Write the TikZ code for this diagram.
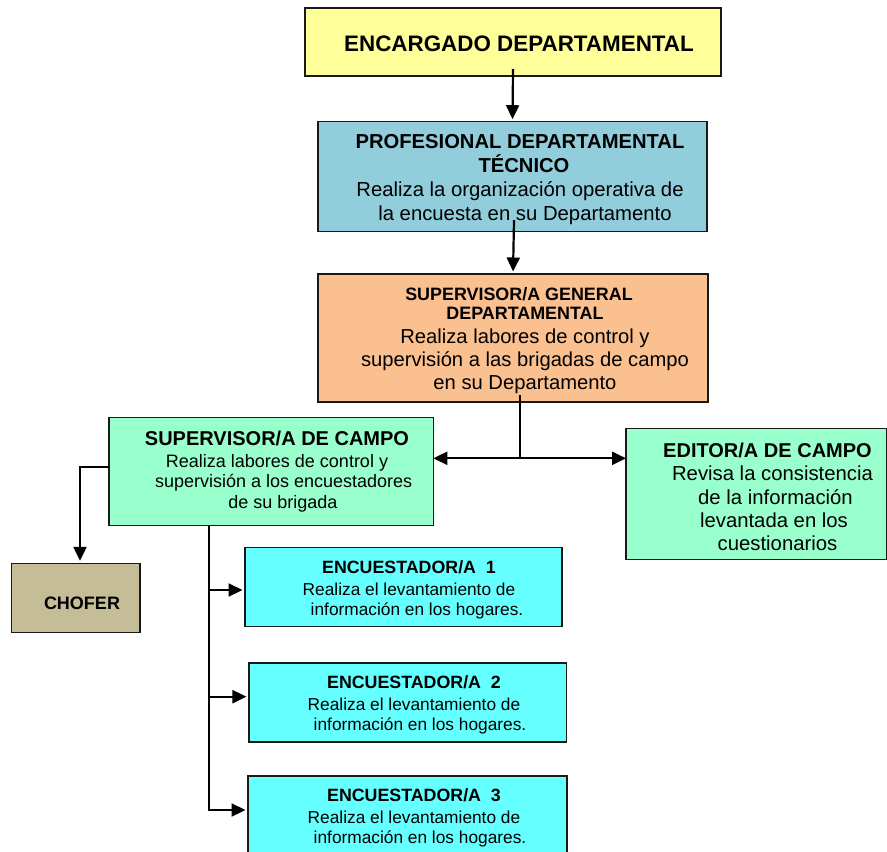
\documentclass[tikz,border=0pt]{standalone}
\usepackage{fontspec}
\setmainfont{Liberation Sans}
\usetikzlibrary{arrows.meta}
\definecolor{cEnc}{HTML}{FFFF99}
\definecolor{cProf}{HTML}{92CDDC}
\definecolor{cSup}{HTML}{FAC090}
\definecolor{cCampo}{HTML}{99FFCC}
\definecolor{cChof}{HTML}{C4BD97}
\definecolor{cEnq}{HTML}{66FFFF}
\newcommand\hd[2]{{\bfseries\fontsize{#1}{#1}\selectfont #2}}
\begin{document}
\begin{tikzpicture}[x=1pt,y=-1pt,
  box/.style={draw=black!90, line width=1.4pt, inner sep=0pt, outer sep=0pt},
  txt/.style={anchor=north, align=center, inner sep=0pt},
  link/.style={line width=2.2pt},
  conn/.style={line width=2.2pt, -{Triangle[length=14pt,width=13pt]}, shorten >=2.5pt}]
\useasboundingbox (0,0) rectangle (887,852);

% boxes
\node[box, fill=cEnc, minimum width=416pt, minimum height=68pt] (enc) at (513,42) {};
\node[txt, font=\bfseries\fontsize{22.4}{25}\selectfont] (encT) at (519,35.5) {ENCARGADO DEPARTAMENTAL};

\node[box, fill=cProf, minimum width=389pt, minimum height=110pt] (prof) at (512.5,176.7) {};
\node[txt, font=\fontsize{20.3}{23.5}\selectfont] (profT) at (520,134.5) {\hd{20.2}{PROFESIONAL DEPARTAMENTAL}\\ \hspace*{8pt}\hd{20.2}{TÉCNICO}\\[1pt] Realiza la organización operativa de\hspace*{6.6pt}\\ \hspace*{10pt}la encuesta en su Departamento};

\node[box, fill=cSup, minimum width=390pt, minimum height=128pt] (supg) at (513,338) {};
\node[txt, font=\fontsize{20.2}{23}\selectfont] (supgT) at (525,287.2) {\hd{17.9}{SUPERVISOR/A GENERAL}\hspace*{12pt}\\[-3.7pt] \hd{17.9}{DEPARTAMENTAL}\\[1pt] Realiza labores de control y\hspace*{13pt}\\ supervisión a las brigadas de campo\\ en su Departamento};

\node[box, fill=cCampo, minimum width=324.3pt, minimum height=108.4pt] (campo) at (271.2,471.5) {};
\node[txt, font=\fontsize{18}{20.5}\selectfont] (campoT) at (277,430.7) {\hd{20}{SUPERVISOR/A DE CAMPO}\\[1.5pt] Realiza labores de control y\\ \hspace*{13.4pt}supervisión a los encuestadores\\ \hspace*{12pt}de su brigada};

\node[box, fill=cCampo, minimum width=260.5pt, minimum height=131pt] (editor) at (756.3,493.8) {};
\node[txt, font=\fontsize{20.3}{23.3}\selectfont] (editorT) at (767.5,443) {\hd{20}{EDITOR/A DE CAMPO}\\ \hspace*{10pt}Revisa la consistencia\\ \hspace*{16pt}de la información\\ \hspace*{13pt}levantada en los\\ \hspace*{20pt}cuestionarios};

\node[box, fill=cChof, minimum width=128.3pt, minimum height=69.4pt] (chofer) at (75.8,598) {};
\node[txt, font=\bfseries\fontsize{18}{21}\selectfont] (choferT) at (82,597) {CHOFER};

\node[box, fill=cEnq, minimum width=317pt, minimum height=79pt] (e1) at (403.5,587) {};
\node[txt, font=\fontsize{17.3}{20}\selectfont] (e1T) at (409,560.3) {\hd{17.8}{ENCUESTADOR/A\ \ 1}\\[2pt] Realiza el levantamiento de\hspace*{7pt}\\ \hspace*{16pt}información en los hogares.};

\node[box, fill=cEnq, minimum width=317.7pt, minimum height=79pt] (e2) at (407.8,702.5) {};
\node[txt, font=\fontsize{17.3}{20}\selectfont] (e2T) at (414,675.6) {\hd{17.8}{ENCUESTADOR/A\ \ 2}\\[2pt] Realiza el levantamiento de\hspace*{2pt}\\ \hspace*{12pt}información en los hogares.};

\node[box, fill=cEnq, minimum width=319pt, minimum height=79pt] (e3) at (407.5,815.5) {};
\node[txt, font=\fontsize{17.3}{20}\selectfont] (e3T) at (414,788.8) {\hd{17.8}{ENCUESTADOR/A\ \ 3}\\[2pt] Realiza el levantamiento de\hspace*{2pt}\\ \hspace*{12pt}información en los hogares.};

% connectors
\draw[conn] ([yshift=7pt]enc.south) -- (prof.north);
\draw[conn] ([xshift=1.5pt,yshift=11.5pt]prof.south) -- (supg.north);

\coordinate (j) at (520,458.3);
\draw[link] ([xshift=7pt,yshift=7pt]supg.south) -- (j);
\draw[conn, shorten >=0pt] (j) -- (j -| campo.east);
\draw[conn, shorten >=0pt] (j) -- (j -| editor.west);

\coordinate (cb) at (80,467);
\draw[conn] (cb -| campo.west) -- (cb) -- (cb |- chofer.north);

\coordinate (tk) at (209,810);
\draw[conn] (tk |- campo.south) -- (tk) -- (tk -| e3.west);
\coordinate (b1) at (209,590);
\draw[conn] (b1) -- (b1 -| e1.west);
\coordinate (b2) at (209,696.7);
\draw[conn] (b2) -- (b2 -| e2.west);
\end{tikzpicture}
\end{document}
